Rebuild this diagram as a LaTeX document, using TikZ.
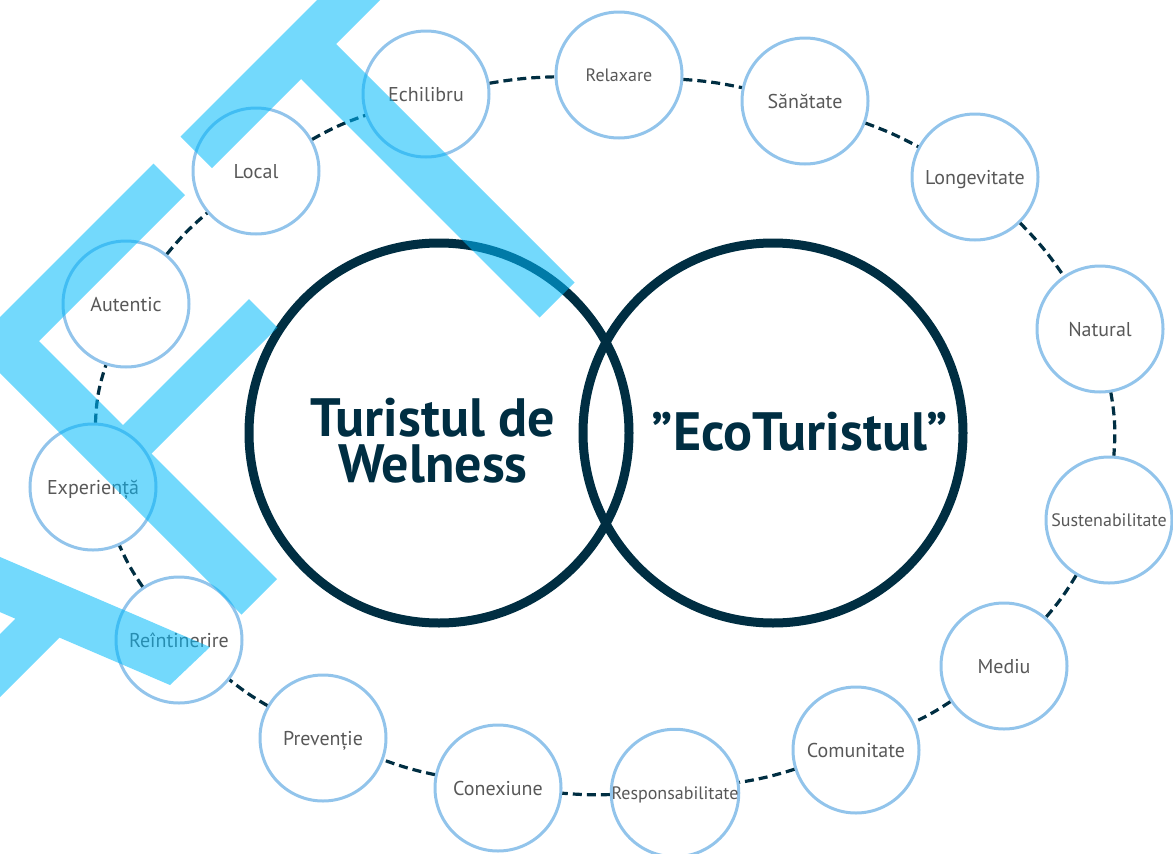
\documentclass[tikz,border=0pt]{standalone}
\usepackage{fontspec}
\setmainfont{PT Sans}
\definecolor{navy}{RGB}{0,46,66}
\definecolor{ringblue}{RGB}{146,196,235}
\definecolor{labelgrey}{RGB}{88,88,88}
\definecolor{stripecyan}{RGB}{0,185,250}
\tikzset{
  ring/.style={circle, draw=ringblue, line width=3pt, minimum size=126pt, inner sep=0pt,
    text=labelgrey, font=\fontsize{20}{24}\selectfont, text height=14.5pt, text depth=0pt},
  smallring/.style={ring, font=\fontsize{18}{22}\selectfont, text height=13.5pt},
  bigring/.style={circle, draw=navy, line width=9pt, minimum size=380pt, inner sep=0pt},
  bigtext/.style={text=navy, font=\fontsize{54}{46}\selectfont\bfseries, align=center, inner sep=0pt},
  dashlink/.style={draw=navy, line width=3.2pt, dash pattern=on 9pt off 5pt},
  stripes/.style={fill=stripecyan, fill opacity=0.55},
}
\begin{document}
\begin{tikzpicture}[x=1pt,y=-1pt]
\useasboundingbox (0,0) rectangle (1173,854);
% big circles
\node[bigring] (wel) at (439,433) {};
\node[bigring] (eco) at (773,433) {};
\node[bigtext] (weltext) at (433,441) {Turistul de\\Welness};
\node[bigtext] (ecotext) at (800,432) {”EcoTuristul”};
% small circles
\node[ring] (local) at (256,171) {Local};
\node[ring] (echilibru) at (426,94) {Echilibru};
\node[smallring] (relaxare) at (619,75) {Relaxare};
\node[ring] (sanatate) at (805,101) {Sănătate};
\node[ring] (longevitate) at (975,177) {Longevitate};
\node[ring] (natural) at (1100,329) {Natural};
\node[smallring] (sustenabilitate) at (1109,520) {Sustenabilitate};
\node[ring] (mediu) at (1004,666) {Mediu};
\node[ring] (comunitate) at (856,750) {Comunitate};
\node[smallring] (responsabilitate) at (675,793) {Responsabilitate};
\node[ring] (conexiune) at (498,788) {Conexiune};
\node[ring] (preventie) at (323,738) {Prevenție};
\node[ring] (reintinerire) at (179,640) {Reîntinerire};
\node[ring] (experienta) at (93,487) {Experiență};
\node[ring] (autentic) at (126,304) {Autentic};
% dashed connectors
\draw[dashlink] (local) to[bend left=5] (echilibru);
\draw[dashlink] (echilibru) to[bend left=4] (relaxare);
\draw[dashlink] (relaxare) to[bend left=4] (sanatate);
\draw[dashlink] (sanatate) to[bend left=4] (longevitate);
\draw[dashlink] (longevitate) to[bend left=5] (natural);
\draw[dashlink] (natural) to[bend left=7] (sustenabilitate);
\draw[dashlink] (sustenabilitate) to[bend left=5] (mediu);
\draw[dashlink] (mediu) to[bend left=4] (comunitate);
\draw[dashlink] (comunitate) to[bend left=4] (responsabilitate);
\draw[dashlink] (responsabilitate) to[bend left=3] (conexiune);
\draw[dashlink] (conexiune) to[bend left=4] (preventie);
\draw[dashlink] (preventie) to[bend left=4] (reintinerire);
\draw[dashlink] (reintinerire) to[bend left=5] (experienta);
\draw[dashlink] (experienta) to[bend left=8] (autentic);
\draw[dashlink] (autentic) to[bend left=5] (local);
% background stripes (on top, translucent)
\fill[stripes]
  (337,-20) -- (400,-20) -- (212,168) -- (180.5,136.5) -- cycle
  (285.5,63.5) -- (320.5,28.5) -- (574.5,282.5) -- (539.5,317.5) -- cycle
  (153.5,163.5) -- (185,195) -- (39,341) -- (277,579) -- (241.5,614.5) -- (-28,345) -- cycle
  (249,299) -- (277.5,327.5) -- (134,471) -- (105.5,442.5) -- cycle
  (-20,548.4) -- (210,647) -- (170,685) -- (-20,603.5) -- cycle
  (37,597) -- (68.5,628.5) -- (-51.5,748.5) -- (-83,717) -- cycle;
\end{tikzpicture}
\end{document}
